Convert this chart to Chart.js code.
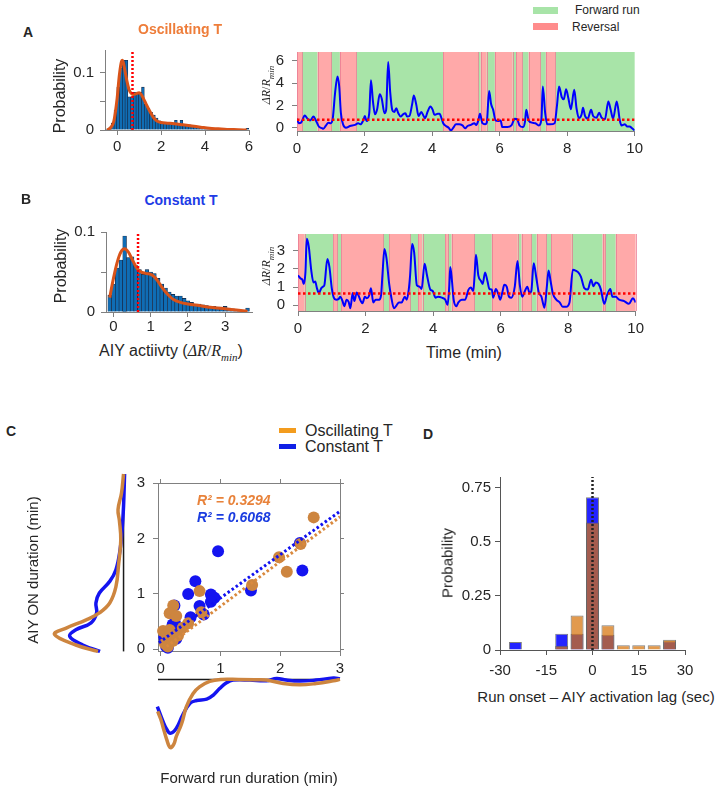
<!DOCTYPE html>
<html><head><meta charset="utf-8">
<script src="https://cdn.jsdelivr.net/npm/chart.js@4.4.1/dist/chart.umd.min.js"></script>
<style>
body{margin:0;width:719px;height:791px;position:relative;background:#fff;overflow:hidden;font-family:'Liberation Sans',Arial,sans-serif;color:#262626}
canvas{position:absolute}
.t{position:absolute;transform:translate(-50%,-50%);white-space:nowrap;line-height:1}
.l{position:absolute;transform:translate(0,-50%);white-space:nowrap;line-height:1}
.r{position:absolute;transform:translate(-50%,-50%) rotate(-90deg);white-space:nowrap;line-height:1}
.b{font-weight:bold}
.m{font-family:'Liberation Serif','DejaVu Serif',serif}
.sw{position:absolute}
</style></head>
<body>
<canvas id="histA"></canvas><canvas id="tsA"></canvas>
<canvas id="histB"></canvas><canvas id="tsB"></canvas>
<canvas id="scatC"></canvas><canvas id="margY"></canvas><canvas id="margX"></canvas>
<canvas id="lagD"></canvas>

<div class="t b" style="left:28px;top:32px;font-size:14px">A</div>
<div class="t b" style="left:180px;top:29px;font-size:14px;color:#EE7D3A">Oscillating T</div>
<div class="r" style="left:60px;top:96px;font-size:16px">Probability</div>
<div class="r m" style="left:268px;top:85px;font-size:12px"><i>ΔR</i>/<i>R<sub style="font-size:9px">min</sub></i></div>
<div class="sw" style="left:533px;top:7px;width:25px;height:7px;background:#A8E4A8"></div>
<div class="l" style="left:575px;top:10px;font-size:12px">Forward run</div>
<div class="sw" style="left:533px;top:23px;width:25px;height:7px;background:#FF8C8C"></div>
<div class="l" style="left:572px;top:27px;font-size:12px">Reversal</div>

<div class="t b" style="left:26px;top:199px;font-size:14px">B</div>
<div class="t b" style="left:181px;top:200px;font-size:14px;color:#1E3CE6">Constant T</div>
<div class="r" style="left:61px;top:266px;font-size:16px">Probability</div>
<div class="r m" style="left:268px;top:266px;font-size:12px"><i>ΔR</i>/<i>R<sub style="font-size:9px">min</sub></i></div>
<div class="t" style="left:171px;top:353px;font-size:16px">AIY actiivty (<span class="m"><i>ΔR</i>/<i>R<sub style="font-size:11px">min</sub></i></span>)</div>
<div class="t" style="left:464px;top:353px;font-size:16px">Time (min)</div>

<div class="t b" style="left:11px;top:431px;font-size:14px">C</div>
<div class="sw" style="left:279px;top:428px;width:17px;height:5px;background:#F39C1E"></div>
<div class="l" style="left:305px;top:431px;font-size:16px">Oscillating T</div>
<div class="sw" style="left:279px;top:444px;width:17px;height:5px;background:#1020E6"></div>
<div class="l" style="left:305px;top:447px;font-size:16px">Constant T</div>
<div class="l b" style="left:197px;top:500px;font-size:14px;font-style:italic;color:#E8823A">R² = 0.3294</div>
<div class="l b" style="left:197px;top:517px;font-size:14px;font-style:italic;color:#1A3CE0">R² = 0.6068</div>
<div class="r" style="left:32px;top:570px;font-size:15px">AIY ON duration (min)</div>
<div class="t" style="left:249px;top:777px;font-size:15px">Forward run duration (min)</div>

<div class="t b" style="left:428px;top:434px;font-size:14px">D</div>
<div class="r" style="left:447px;top:563px;font-size:15px">Probability</div>
<div class="t" style="left:596px;top:696px;font-size:15px">Run onset – AIY activation lag (sec)</div>

<script>
// ---------------- DATA ----------------
// Panel A histogram (oscillating T)
const histA_centers = [-0.45,-0.325,-0.2,-0.075,0.05,0.175,0.3,0.425,0.55,0.675,0.8,0.925,1.05,1.175,1.3,1.425,1.55,1.675,1.8,1.925,2.05,2.175,2.3,2.425,2.55,2.675,2.8,2.925,3.05,3.175,3.3,3.425,3.55,3.675,3.8,3.925,4.05,4.175,4.3,4.425,4.55,4.675,4.8,4.925,5.05,5.175,5.3,5.425,5.55,5.675,5.8,5.925];
const histA_prob = [0.001,0.004,0.012,0.035,0.075,0.108,0.122,0.122,0.058,0.058,0.066,0.063,0.066,0.075,0.045,0.038,0.031,0.026,0.021,0.016,0.013,0.013,0.012,0.012,0.011,0.017,0.010,0.017,0.010,0.009,0.009,0.008,0.007,0.006,0.005,0.005,0.004,0.004,0.003,0.003,0.002,0.002,0.002,0.002,0.001,0.001,0.001,0.001,0.001,0.001,0.001,0.003];
const kdeA = [[-0.45,0],[-0.3,0.004],[-0.15,0.015],[0,0.055],[0.1,0.095],[0.2,0.12],[0.25,0.122],[0.35,0.105],[0.45,0.085],[0.55,0.07],[0.65,0.064],[0.75,0.062],[0.9,0.064],[1.0,0.065],[1.1,0.062],[1.2,0.055],[1.35,0.043],[1.5,0.032],[1.65,0.022],[1.8,0.016],[2.0,0.013],[2.3,0.012],[2.6,0.011],[3.0,0.009],[3.4,0.007],[3.8,0.005],[4.2,0.003],[4.6,0.002],[5.0,0.001],[5.5,0.0005],[5.9,0]];
const thresholdA = 0.7;
const histA_xticks = [0,2,4,6];
const histA_yticks = [0,0.05,0.1];
const histA_ylabels = ['0','','0.1'];

// Panel A time series
const traceA = [[0,0.8],[0.05,0.4],[0.12,0.45],[0.23,1.1],[0.31,0.8],[0.39,0.65],[0.49,1.0],[0.56,0.65],[0.64,0.13],[0.74,-0.05],[0.78,-0.1],[0.86,0.2],[0.93,0.45],[1.0,0.4],[1.06,0.85],[1.13,3.2],[1.2,4.6],[1.25,3.7],[1.3,1.3],[1.37,0.25],[1.45,0],[1.57,0.15],[1.72,0.25],[1.81,0.4],[1.88,0.3],[1.96,0.65],[2.01,1.05],[2.06,0.6],[2.14,1.3],[2.19,4.25],[2.25,2.35],[2.31,1.2],[2.37,1.6],[2.45,3.0],[2.51,2.6],[2.59,1.3],[2.64,1.6],[2.7,5.9],[2.76,3.2],[2.82,1.6],[2.88,1.4],[2.94,1.75],[3.0,1.3],[3.07,1.0],[3.14,1.2],[3.21,1.3],[3.26,1.0],[3.33,1.05],[3.41,2.1],[3.46,2.9],[3.53,2.1],[3.6,1.05],[3.68,1.4],[3.75,1.05],[3.79,0.85],[3.87,1.45],[3.95,1.9],[4.02,1.6],[4.07,1.15],[4.17,1.25],[4.22,1.25],[4.29,0.75],[4.33,0.4],[4.41,0.15],[4.49,0],[4.56,-0.25],[4.63,0],[4.71,0.3],[4.8,0.3],[4.9,0.2],[4.98,-0.05],[5.05,0.15],[5.15,0.25],[5.25,0.4],[5.31,0.25],[5.37,0.65],[5.42,1.25],[5.49,0.4],[5.57,0.3],[5.62,0.45],[5.69,3.3],[5.75,2.1],[5.81,1.6],[5.88,0.65],[5.96,0.6],[6.03,0.65],[6.08,0.05],[6.23,0.05],[6.35,0.2],[6.45,0.8],[6.52,0.75],[6.59,0.2],[6.69,0.05],[6.75,0.5],[6.79,1.6],[6.86,0.65],[6.96,0.45],[7.06,0.4],[7.16,0.2],[7.24,0.8],[7.28,3.7],[7.35,1.3],[7.41,0.3],[7.5,0.3],[7.63,0.4],[7.7,2.0],[7.76,3.7],[7.84,2.75],[7.9,2.55],[7.97,3.45],[8.04,2.6],[8.11,1.65],[8.21,3.4],[8.28,1.7],[8.35,0.85],[8.43,1.2],[8.47,1.8],[8.53,1.05],[8.61,0.8],[8.71,1.6],[8.77,1.05],[8.87,0.9],[8.95,1.35],[9.02,0.9],[9.12,0.75],[9.22,2.35],[9.29,1.6],[9.36,0.8],[9.47,2.35],[9.56,0.65],[9.61,0.2],[9.71,0.3],[9.78,0.1],[9.85,0.1],[9.92,-0.05],[10,-0.25]];
const traceThresholdA = 0.7;
const epochBoundsA = [0,0.15,0.61,1.01,1.27,1.76,4.33,5.37,5.44,5.62,5.86,6.39,6.49,6.67,6.86,7.21,7.37,7.65,10];
const epochStatesA = ['R','F','R','F','R','F','R','F','R','F','R','F','R','F','R','F','R','F'];
const tsA_yticks = [0,2,4,6];
const ts_xticks = [0,2,4,6,8,10];

// Panel B histogram (constant T)
const histB_centers = [-0.1,0,0.1,0.2,0.3,0.4,0.5,0.6,0.7,0.8,0.9,1.0,1.1,1.2,1.3,1.4,1.5,1.6,1.7,1.8,1.9,2.0,2.1,2.2,2.3,2.4,2.5,2.6,2.7,2.8,2.9,3.0,3.1,3.2,3.3,3.4,3.5,3.6];
const histB_prob = [0.021,0.035,0.055,0.065,0.095,0.068,0.069,0.058,0.053,0.047,0.053,0.05,0.048,0.042,0.035,0.03,0.025,0.022,0.02,0.02,0.017,0.014,0.012,0.01,0.01,0.009,0.008,0.007,0.007,0.006,0.006,0.007,0.005,0.004,0.003,0.002,0.002,0.005];
const kdeB = [[-0.1,0.018],[0,0.042],[0.1,0.062],[0.2,0.075],[0.3,0.079],[0.4,0.075],[0.5,0.066],[0.6,0.057],[0.7,0.051],[0.8,0.049],[0.9,0.048],[1.0,0.047],[1.1,0.044],[1.2,0.038],[1.3,0.031],[1.4,0.025],[1.5,0.02],[1.6,0.016],[1.8,0.012],[2.0,0.01],[2.3,0.008],[2.6,0.006],[3.0,0.004],[3.3,0.0025],[3.6,0.001]];
const thresholdB = 0.66;
const histB_xticks = [0,1,2,3];
const histB_yticks = [0,0.05,0.1];
const histB_ylabels = ['0','','0.1'];

// Panel B time series
const traceB = [[0,1.64],[0.07,1.48],[0.13,1.4],[0.17,1.17],[0.22,1.8],[0.26,3.64],[0.32,3.2],[0.39,1.95],[0.46,1.25],[0.51,1.3],[0.56,0.94],[0.62,0.67],[0.69,0.94],[0.74,1.02],[0.78,1.1],[0.87,2.53],[0.93,2.1],[1.0,0.94],[1.06,0.42],[1.13,0.31],[1.2,0.34],[1.25,0.47],[1.32,0.23],[1.37,-0.05],[1.44,0.31],[1.5,0.19],[1.55,-0.16],[1.62,0.67],[1.67,0.23],[1.74,0.7],[1.79,0.55],[1.86,0.23],[1.91,0.11],[1.98,0.47],[2.04,0.39],[2.11,0.55],[2.16,0.94],[2.23,0.16],[2.3,0.31],[2.4,0.31],[2.46,0.55],[2.5,1.64],[2.56,3.08],[2.62,2.58],[2.7,1.17],[2.76,0.47],[2.84,-0.16],[2.92,0],[2.99,0.16],[3.07,0.16],[3.16,0.47],[3.22,0.31],[3.28,0.86],[3.32,1.64],[3.38,3.36],[3.44,2.9],[3.52,1.1],[3.6,1.02],[3.66,0.89],[3.75,2.27],[3.82,1.64],[3.92,0.86],[3.99,0.78],[4.07,0.42],[4.15,0.47],[4.26,0.42],[4.36,0.31],[4.43,0.03],[4.48,1.02],[4.51,2.1],[4.56,1.33],[4.61,0.31],[4.69,-0.05],[4.75,0.16],[4.85,0.31],[4.95,0.31],[5.05,0.86],[5.12,0.97],[5.19,0.78],[5.23,1.64],[5.27,2.77],[5.34,1.64],[5.42,1.33],[5.47,1.17],[5.54,1.8],[5.61,1.33],[5.67,0.89],[5.74,0.86],[5.78,0.42],[5.86,0.89],[5.93,0.63],[5.99,0.31],[6.05,0.7],[6.11,1.12],[6.18,1.02],[6.25,0.47],[6.32,0.42],[6.42,1.02],[6.5,2.42],[6.57,1.1],[6.64,0.47],[6.72,0.78],[6.79,1.02],[6.86,0.67],[6.91,0.78],[6.98,2.3],[7.06,1.48],[7.13,0.7],[7.21,0.47],[7.25,0.16],[7.3,-0.13],[7.37,1.02],[7.42,1.91],[7.48,1.33],[7.55,0.63],[7.65,0.31],[7.75,0.16],[7.84,-0.08],[7.94,-0.08],[8.04,0.16],[8.14,1.95],[8.24,1.88],[8.3,1.8],[8.38,1.56],[8.48,0.94],[8.58,0.86],[8.68,1.4],[8.75,1.05],[8.82,1.25],[8.9,1.17],[8.97,0.86],[9.07,0.08],[9.15,0.55],[9.25,0.89],[9.31,0.47],[9.41,0.47],[9.51,0.31],[9.66,0.23],[9.8,0.08],[9.92,0.39],[10,0.16]];
const traceThresholdB = 0.64;
const epochBoundsB = [0,0.2,1.05,1.16,1.28,2.52,2.7,3.32,3.56,3.69,4.36,4.44,4.55,5.22,5.74,6.51,6.62,6.91,7.07,7.35,7.5,8.11,9.02,9.1,9.41,10];
const epochStatesB = ['R','F','R','F','R','F','R','F','R','F','R','F','R','F','R','F','R','F','R','F','R','F','R','F','R'];
const tsB_yticks = [0,1,2,3];

// Panel C scatter: [forward run duration, AIY ON duration] (min)
const pointsOscillating = [[2.56,2.38],[2.34,1.9],[1.98,1.66],[2.11,1.4],[1.53,1.16],[0.65,1.05],[0.68,0.67],[0.21,0.79],[0.15,0.65],[0.26,0.6],[0.04,0.33],[0.1,0.27],[0.21,0.22],[0.29,0.25],[0.37,0.39],[0.07,0.1],[0.12,0.05],[0.46,0.47],[0.15,0.35],[0.2,0.15]];
const pointsConstant = [[0.96,1.77],[2.37,1.42],[2.33,1.92],[1.51,1.06],[0.58,1.23],[0.46,1.0],[0.84,0.99],[0.9,0.93],[0.84,0.86],[0.65,0.78],[0.72,0.63],[0.5,0.58],[0.23,0.79],[0.2,0.45],[0.24,0.47],[0.26,0.27],[0.26,0.19],[0.09,0.05],[0.06,0.22],[0.12,0.03]];
const fitOscillating = [[0.1,0.05],[3.0,2.39]];
const fitConstant = [[-0.03,0.12],[3.0,2.49]];
const scat_ticks = [0,1,2,3];
// marginal densities (relative)
const margXOscillating = [[-0.05,0.47],[0,0.58],[0.04,0.7],[0.1,0.88],[0.16,1.0],[0.22,0.95],[0.26,0.84],[0.35,0.65],[0.43,0.4],[0.54,0.21],[0.65,0.11],[0.82,0.03],[1.0,0],[1.3,0],[1.6,0.005],[1.77,0.01],[2.05,0.06],[2.33,0.08],[2.6,0.06],[2.89,0.02],[3.0,0]];
const margXConstant = [[-0.056,0.4],[0.04,0.62],[0.1,0.73],[0.16,0.79],[0.26,0.72],[0.37,0.52],[0.49,0.35],[0.6,0.31],[0.77,0.29],[0.88,0.23],[0.99,0.13],[1.1,0.05],[1.21,0.01],[1.49,0.01],[1.77,0.02],[1.94,-0.015],[2.1,0.01],[2.33,0.025],[2.6,0.01],[2.89,-0.02],[3.0,-0.01]];
const margYOscillating = [[-0.04,0.37],[0.07,0.69],[0.25,1.0],[0.36,0.83],[0.5,0.54],[0.62,0.35],[0.79,0.2],[1.07,0.11],[1.47,0.07],[1.87,0.04],[2.2,0.06],[2.39,0.08],[2.67,0.03],[3.0,0]];
const margYConstant = [[-0.04,0.34],[0.07,0.59],[0.22,0.78],[0.33,0.69],[0.45,0.47],[0.62,0.39],[0.79,0.4],[0.96,0.35],[1.16,0.2],[1.36,0.11],[1.7,0.05],[2.05,0.02],[2.45,0],[3.0,-0.015]];

// Panel D lag histogram
const lagBins = [-25,-20,-15,-10,-5,0,5,10,15,20,25];
const lagOscillating = [0,0,0,0.02,0.16,0.59,0.115,0.022,0.022,0.022,0.047];
const lagConstant = [0.037,0,0,0.075,0.075,0.706,0.071,0,0,0,0.04];
const lag_xticks = [-30,-15,0,15,30];
const lag_yticks = [0,0.25,0.5,0.75];
const lag_ylabels = ['0','0.25','0.5','0.75'];

// ---------------- HELPERS ----------------
Chart.defaults.font.family = "'Liberation Sans', Arial, sans-serif";
Chart.defaults.font.size = 15;
Chart.defaults.color = '#262626';
Chart.defaults.plugins.legend.display = false;
Chart.defaults.plugins.tooltip.enabled = false;

const AX = '#808080';
function axis(min, max, ticks, labels, o = {}) {
  return {
    type: 'linear', min, max, offset: false, position: o.position, reverse: !!o.reverse, z: 1,
    afterBuildTicks: s => { s.ticks = ticks.map(v => ({ value: v })); },
    afterFit: s => { if (o.size != null) { if (s.isHorizontal()) s.height = o.size; else s.width = o.size; } },
    ticks: { display: labels !== null, autoSkip: false, maxRotation: 0, padding: o.pad ?? 4, font: { size: o.fs || 15 }, color: '#262626',
             callback: (v, i) => labels ? labels[i] : '' },
    grid: { display: true, offset: false, drawOnChartArea: false, drawTicks: true, tickLength: o.tl ?? 5, color: o.col || AX, lineWidth: 1 },
    border: { display: true, color: o.col || AX, width: 1 }
  };
}
const hidden = (min, max, rev) => ({ type: 'linear', min, max, display: false, reverse: !!rev });

function makeChart(id, area, m, pad, cfg) {
  const c = document.getElementById(id);
  const w = area.r - area.l + m.l + m.r, h = area.b - area.t + m.t + m.b;
  c.width = w; c.height = h;
  c.style.left = (area.l - m.l) + 'px'; c.style.top = (area.t - m.t) + 'px';
  c.style.width = w + 'px'; c.style.height = h + 'px';
  cfg.options.responsive = false;
  cfg.options.animation = false;
  cfg.options.devicePixelRatio = 1;
  cfg.options.layout = { autoPadding: false, padding: pad };
  return new Chart(c, cfg);
}
const xy = arr => arr.map(([x, y]) => ({ x, y }));

function epochPlugin(bounds, states) {
  return {
    id: 'epochs',
    beforeDatasetsDraw(chart) {
      const { ctx, chartArea: a, scales: { x } } = chart;
      ctx.save();
      for (let i = 0; i < states.length; i++) {
        const x0 = x.getPixelForValue(bounds[i]), x1 = x.getPixelForValue(bounds[i + 1]);
        ctx.fillStyle = states[i] === 'F' ? '#A8E4A8' : '#FFA9A9';
        ctx.fillRect(x0, a.top, x1 - x0, a.bottom - a.top);
      }
      ctx.strokeStyle = 'rgba(232,120,145,0.75)'; ctx.lineWidth = 1;
      for (let i = 0; i < states.length; i++) {
        if (states[i] !== 'R') continue;
        [bounds[i], bounds[i + 1]].forEach(b => {
          const px = Math.round(x.getPixelForValue(b)) + 0.5;
          ctx.beginPath(); ctx.moveTo(px, a.top); ctx.lineTo(px, a.bottom); ctx.stroke();
        });
      }
      ctx.restore();
    }
  };
}

function histChart(id, area, centers, probs, kde, thr, thrTop, xr, xt, yr, yt, yl, xpad) {
  return makeChart(id, area, { l: 40, t: 5, r: 8, b: 26 }, { left: 0, top: 5, right: 8, bottom: 0 }, {
    type: 'bar',
    data: { datasets: [
      { type: 'line', data: [{ x: thr, y: 0 }, { x: thr, y: thrTop }], borderColor: '#FF0000', borderWidth: 2.5, borderDash: [2, 2], pointRadius: 0, order: 0 },
      { type: 'line', data: xy(kde), borderColor: '#D95319', borderWidth: 3, pointRadius: 0, cubicInterpolationMode: 'monotone', order: 1 },
      { type: 'bar', data: centers.map((x, i) => ({ x, y: probs[i] })), backgroundColor: '#0F6DB5', borderColor: '#16213a', borderWidth: 0.6, barPercentage: 1, categoryPercentage: 1, order: 2 }
    ] },
    options: { scales: {
      x: axis(xr[0], xr[1], xt, xt.map(String), { size: 26, pad: xpad }),
      y: axis(yr[0], yr[1], yt, yl, { size: 40, pad: 6 })
    } }
  });
}

function tsChart(id, area, trace, thr, bounds, states, yr, yt) {
  return makeChart(id, area, { l: 30, t: 5, r: 10, b: 28 }, { left: 0, top: 5, right: 10, bottom: 0 }, {
    type: 'line',
    data: { datasets: [
      { data: [{ x: 0, y: thr }, { x: 10, y: thr }], borderColor: '#FF0000', borderWidth: 2.5, borderDash: [2.5, 2.5], pointRadius: 0, order: 0 },
      { data: xy(trace), borderColor: '#0000FF', borderWidth: 2, pointRadius: 0, cubicInterpolationMode: 'monotone', order: 1 }
    ] },
    options: { scales: {
      x: axis(0, 10, ts_xticks, ts_xticks.map(String), { size: 28, pad: 4 }),
      y: axis(yr[0], yr[1], yt, yt.map(String), { size: 30, pad: 8 })
    } },
    plugins: [epochPlugin(bounds, states)]
  });
}

// ---------------- PANELS ----------------
histChart('histA', { l: 105, t: 40, r: 249, b: 130 }, histA_centers, histA_prob, kdeA, thresholdA, 0.139, [-0.55, 6], histA_xticks, [0, 0.14], histA_yticks, histA_ylabels, 3);
tsChart('tsA', { l: 297, t: 40, r: 637, b: 131 }, traceA, traceThresholdA, epochBoundsA, epochStatesA, [-0.3, 6.8], tsA_yticks);
histChart('histB', { l: 106, t: 222, r: 252, b: 312 }, histB_centers, histB_prob, kdeB, thresholdB, 0.1, [-0.2, 3.72], histB_xticks, [0, 0.1], histB_yticks, histB_ylabels, 1);
tsChart('tsB', { l: 298, t: 222, r: 638, b: 311 }, traceB, traceThresholdB, epochBoundsB, epochStatesB, [-0.31, 3.9], tsB_yticks);

const OR = '#CD853F', BL = '#1414F0';
makeChart('scatC', { l: 158, t: 474, r: 340, b: 651 }, { l: 40, t: 8, r: 10, b: 28 }, 0, {
  type: 'scatter',
  data: { datasets: [
    { data: xy(fitConstant), showLine: true, borderColor: '#1010F0', borderWidth: 3, borderDash: [2.5, 2.5], pointRadius: 0, order: 0 },
    { data: xy(fitOscillating), showLine: true, borderColor: '#D9893E', borderWidth: 3, borderDash: [2.5, 2.5], pointRadius: 0, order: 1 },
    { data: xy(pointsOscillating), backgroundColor: OR, borderWidth: 0, pointRadius: 6, order: 2, clip: false },
    { data: xy(pointsConstant), backgroundColor: BL, borderWidth: 0, pointRadius: 6, order: 3, clip: false }
  ] },
  options: { scales: {
    x: axis(-0.045, 3, scat_ticks, scat_ticks.map(String), { size: 28, pad: 4 }),
    y: axis(-0.03, 3, scat_ticks, scat_ticks.map(String), { size: 40, pad: 8 }),
    x2: axis(-0.045, 3, scat_ticks, null, { position: 'top', size: 8, tl: 4 }),
    y2: axis(-0.03, 3, scat_ticks, null, { position: 'right', size: 10, tl: 4 })
  } }
});

const margLine = (d, col, order) => ({ data: xy(d), showLine: true, borderColor: col, borderWidth: 3.5, pointRadius: 0, tension: 0.4, order, clip: false });
makeChart('margY', { l: 51, t: 474, r: 127, b: 652 }, { l: 4, t: 4, r: 4, b: 4 }, 4, {
  type: 'scatter',
  data: { datasets: [
    { data: [{ x: 0, y: -0.04 }, { x: 0, y: 3.0 }], showLine: true, borderColor: '#1a1a1a', borderWidth: 1.5, pointRadius: 0, order: 3 },
    margLine(margYOscillating.map(([y, d]) => [d, y]), OR, 0),
    margLine(margYConstant.map(([y, d]) => [d, y]), BL, 1)
  ] },
  options: { scales: { x: hidden(-0.05, 1.05, true), y: hidden(-0.05, 3.0) } }
});
makeChart('margX', { l: 158, t: 676, r: 340, b: 751 }, { l: 4, t: 4, r: 4, b: 4 }, 4, {
  type: 'scatter',
  data: { datasets: [
    { data: [{ x: -0.045, y: 0 }, { x: 3.0, y: 0 }], showLine: true, borderColor: '#1a1a1a', borderWidth: 1.5, pointRadius: 0, order: 3 },
    margLine(margXOscillating, OR, 0),
    margLine(margXConstant, BL, 1)
  ] },
  options: { scales: { x: hidden(-0.045, 3.0), y: hidden(-0.05, 1.05, true) } }
});

makeChart('lagD', { l: 500, t: 469, r: 685, b: 650 }, { l: 48, t: 5, r: 18, b: 32 }, { left: 0, top: 5, right: 18, bottom: 0 }, {
  type: 'bar',
  data: { datasets: [
    { type: 'line', data: [{ x: 0, y: 0 }, { x: 0, y: 0.8 }], borderColor: '#222', borderWidth: 2.5, borderDash: [2, 2], pointRadius: 0, order: 0 },
    { data: lagBins.map((x, i) => ({ x, y: lagOscillating[i] })), backgroundColor: 'rgba(215,115,10,0.72)', borderColor: 'rgba(95,95,95,0.8)', borderWidth: 1, grouped: false, barPercentage: 0.84, categoryPercentage: 1, order: 1 },
    { data: lagBins.map((x, i) => ({ x, y: lagConstant[i] })), backgroundColor: '#2323FF', borderColor: 'rgba(95,95,95,0.8)', borderWidth: 1, grouped: false, barPercentage: 0.84, categoryPercentage: 1, order: 2 }
  ] },
  options: { scales: {
    x: axis(-30, 30, lag_xticks, lag_xticks.map(String), { size: 32, pad: 7, col: '#555' }),
    y: axis(0, 0.8, lag_yticks, lag_ylabels, { size: 48, pad: 4, col: '#555' })
  } }
});
</script>
</body></html>
